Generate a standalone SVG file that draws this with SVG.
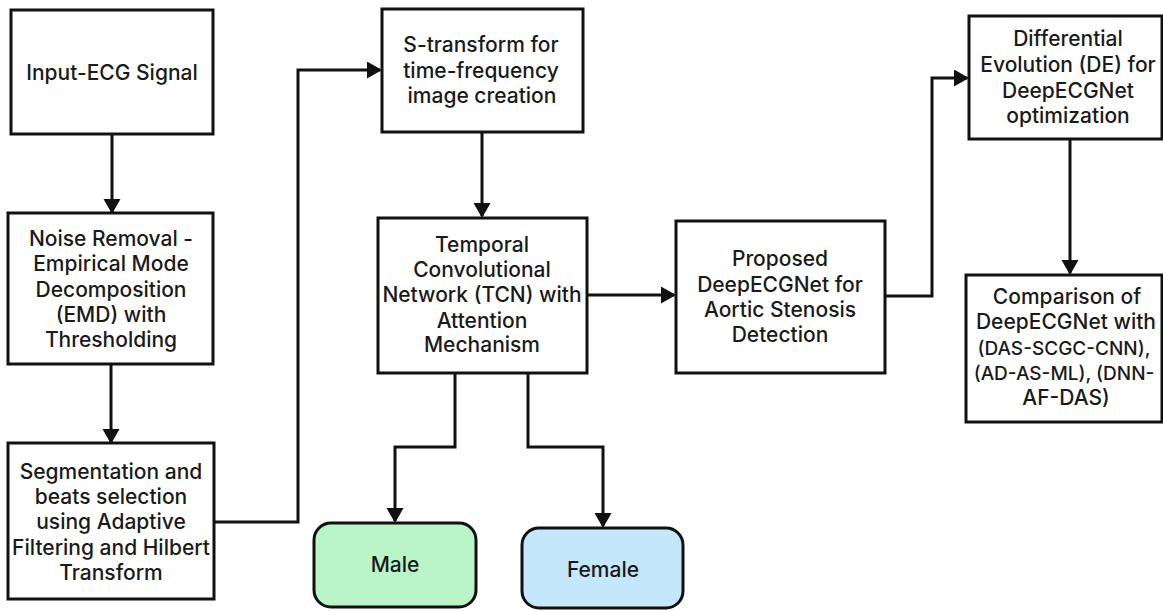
<svg xmlns="http://www.w3.org/2000/svg" width="1163" height="611" viewBox="0 0 1163 611">
<style>
.box{fill:#ffffff;stroke:#111111;stroke-width:3}
.male{fill:#b9f5c6;stroke:#111111;stroke-width:3}
.female{fill:#c5e7fb;stroke:#111111;stroke-width:3}
.t{font-family:Inter,"Liberation Sans",Arial,sans-serif;font-size:21px;font-weight:500;fill:#1a1a1a;text-anchor:middle}
.s{font-size:19px}
.c{fill:none;stroke:#111111;stroke-width:3;marker-end:url(#ah)}
</style>
<defs>
<marker id="ah" markerUnits="userSpaceOnUse" markerWidth="18" markerHeight="18" refX="13" refY="8.5" orient="auto">
<path d="M0,0 L15,8.5 L0,17 Z" fill="#111111"/>
</marker>
</defs>
<rect width="1163" height="611" fill="#ffffff"/>
<g id="connectors">
<path class="c" d="M112,134 V212"/>
<path class="c" d="M111,364 V442"/>
<path class="c" d="M214,522 H298 V70 H380"/>
<path class="c" d="M482,132 V216"/>
<path class="c" d="M587,295 H674"/>
<path class="c" d="M885,296 H932 V78 H967"/>
<path class="c" d="M1070,139 V273"/>
<path class="c" d="M455,373 V447 H395 V521"/>
<path class="c" d="M528,373 V447 H603 V526"/>
</g>
<g id="n1">
<rect class="box" x="11" y="10" width="202" height="124"/>
<text class="t" x="112" y="80">Input-ECG Signal</text>
</g>
<g id="n2">
<rect class="box" x="8" y="213" width="205" height="151"/>
<text class="t" x="111" y="246">Noise Removal -</text>
<text class="t" x="111" y="271">Empirical Mode</text>
<text class="t" x="111" y="297">Decomposition</text>
<text class="t" x="111" y="322">(EMD) with</text>
<text class="t" x="111" y="347">Thresholding</text>
</g>
<g id="n3">
<rect class="box" x="8" y="443" width="206" height="156"/>
<text class="t" x="111" y="479">Segmentation and</text>
<text class="t" x="111" y="504">beats selection</text>
<text class="t" x="111" y="529">using Adaptive</text>
<text class="t" x="111" y="555">Filtering and Hilbert</text>
<text class="t" x="111" y="580">Transform</text>
</g>
<g id="n4">
<rect class="box" x="382" y="9" width="201" height="123"/>
<text class="t" x="481" y="52">S-transform for</text>
<text class="t" x="481" y="78">time-frequency</text>
<text class="t" x="482" y="103">image creation</text>
</g>
<g id="n5">
<rect class="box" x="378" y="218" width="209" height="155"/>
<text class="t" x="482" y="252">Temporal</text>
<text class="t" x="482" y="277">Convolutional</text>
<text class="t" x="482" y="302">Network (TCN) with</text>
<text class="t" x="482" y="328">Attention</text>
<text class="t" x="482" y="352">Mechanism</text>
</g>
<g id="n6">
<rect class="box" x="676" y="221" width="209" height="152"/>
<text class="t" x="780" y="266">Proposed</text>
<text class="t" x="780" y="292">DeepECGNet for</text>
<text class="t" x="780" y="317">Aortic Stenosis</text>
<text class="t" x="780" y="342">Detection</text>
</g>
<g id="n7">
<rect class="box" x="969" y="16" width="193" height="123"/>
<text class="t" x="1068" y="46">Differential</text>
<text class="t" x="1068" y="72">Evolution (DE) for</text>
<text class="t" x="1068" y="98">DeepECGNet</text>
<text class="t" x="1068" y="123">optimization</text>
</g>
<g id="n8">
<rect class="box" x="966" y="275" width="196" height="147"/>
<text class="t" x="1067" y="304">Comparison of</text>
<text class="t" x="1066" y="329">DeepECGNet with</text>
<text class="t s" x="1064" y="355">(DAS-SCGC-CNN),</text>
<text class="t s" x="1064" y="380">(AD-AS-ML), (DNN-</text>
<text class="t" x="1066" y="405">AF-DAS)</text>
</g>
<g id="male">
<rect class="male" x="314" y="523" width="162" height="84" rx="17"/>
<text class="t" x="395" y="572">Male</text>
</g>
<g id="female">
<rect class="female" x="522" y="528" width="161" height="80" rx="17"/>
<text class="t" x="603" y="577">Female</text>
</g>
</svg>
